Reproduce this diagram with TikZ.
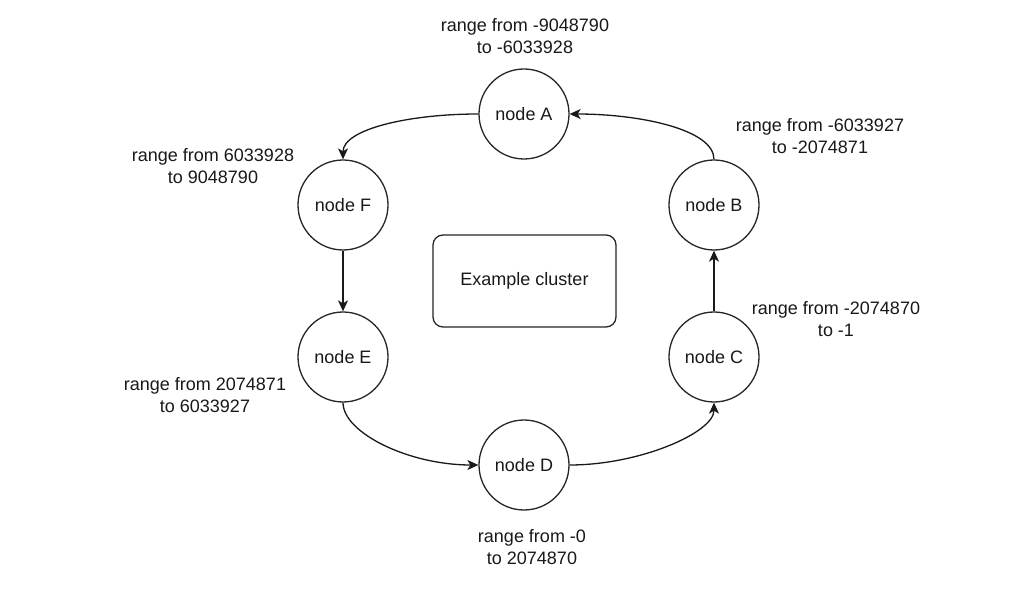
\documentclass[tikz,border=0pt]{standalone}
\usepackage{fontspec}
\setmainfont{Liberation Sans}
\usetikzlibrary{arrows.meta}
\begin{document}
\begin{tikzpicture}[x=1pt,y=-1pt,
  every node/.style={font=\fontsize{18}{21.6}\selectfont, text=black!90},
  ring/.style={circle, draw=black!85, line width=1.3pt, minimum size=90pt, inner sep=0pt, fill=white},
  cluster/.style={draw=black!85, line width=1.3pt, rounded corners=10pt, minimum width=183pt, minimum height=92pt, inner sep=0pt},
  lbl/.style={align=center, inner sep=0pt},
  conn/.style={draw=black!90, line width=1.3pt, -{Stealth[length=11pt,width=10pt,inset=3pt]}}]
\useasboundingbox (0,0) rectangle (1026,601);
\fill[white] (0,0) rectangle (1026,601);
\node[ring] (A) at (524,114) {node A};
\node[ring] (B) at (714,205) {node B};
\node[ring] (C) at (714,357) {node C};
\node[ring] (D) at (524,465) {node D};
\node[ring] (E) at (343,357) {node E};
\node[ring] (F) at (343,205) {node F};
\node[cluster] (K) at (524.5,281) {Example cluster};
\node[lbl] (LA) at (525,36) {range from -9048790\\to -6033928};
\node[lbl] (LB) at (820,136) {range from -6033927\\to -2074871};
\node[lbl] (LC) at (836,319) {range from -2074870\\to -1};
\node[lbl] (LD) at (532,547) {range from -0\\to 2074870};
\node[lbl] (LE) at (205,395) {range from 2074871\\to 6033927};
\node[lbl] (LF) at (213,166) {range from 6033928\\to 9048790};
\draw[conn] (A.west) .. controls +(-70,0) and +(0,-30) .. (F.north);
\draw[conn] (F.south) -- (E.north);
\draw[conn] (E.south) .. controls +(0,30) and +(-70,0) .. (D.west);
\draw[conn] (D.east) .. controls +(70,0) and +(0,30) .. (C.south);
\draw[conn] (C.north) -- (B.south);
\draw[conn] (B.north) .. controls +(0,-30) and +(70,0) .. (A.east);
\end{tikzpicture}
\end{document}
